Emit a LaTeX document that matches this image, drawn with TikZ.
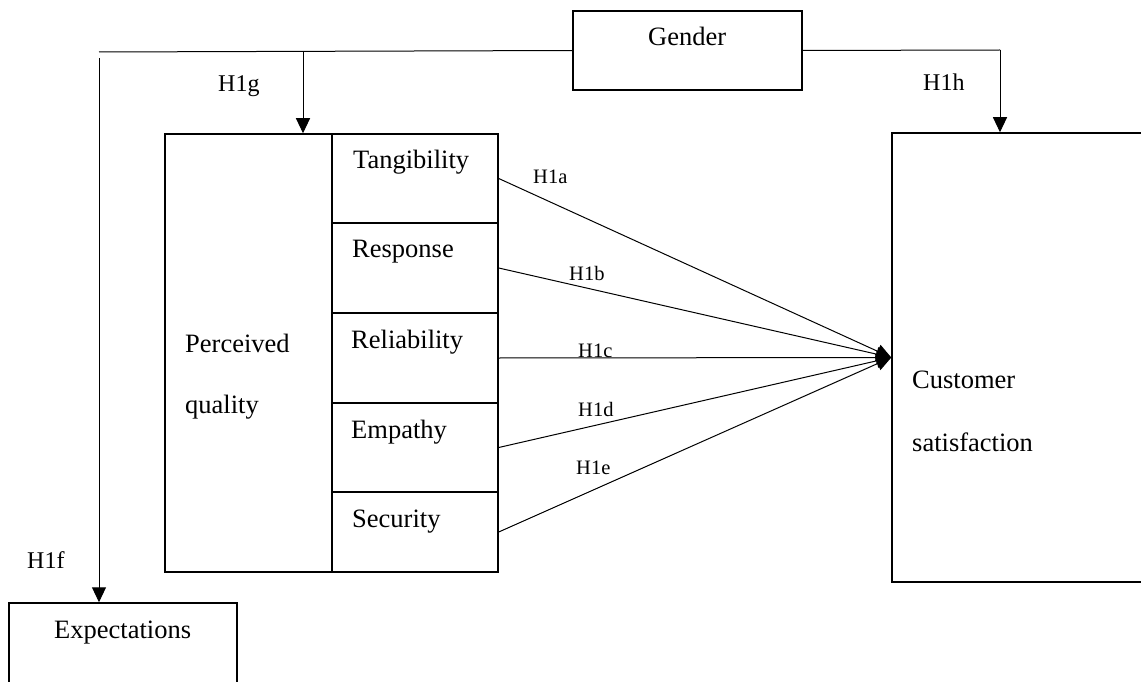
\documentclass[tikz,border=0pt]{standalone}
\usepackage{fontspec}
\setmainfont{Liberation Serif}
\usetikzlibrary{arrows.meta,positioning}

\tikzset{
  box/.style={draw,line width=1.5pt,inner sep=0pt},
  link/.style={line width=1pt},
  arr/.style={link,-{Triangle[width=14pt,length=15pt]}},
  txt/.style={anchor=base west,inner sep=0pt,font=\fontsize{26.5}{30}\selectfont},
  hyp/.style={anchor=base west,inner sep=0pt,font=\fontsize{24}{28}\selectfont},
  hypsmall/.style={anchor=base west,inner sep=0pt,font=\fontsize{20.5}{24}\selectfont},
}

\begin{document}
\begin{tikzpicture}[x=1pt,y=-1pt]
\useasboundingbox (0,0) rectangle (1141,682);
% boxes
\node[box,minimum width=229pt,minimum height=79pt] (gender) at (687.5,50.5) {};
\node[box,minimum width=167pt,minimum height=438pt] (pq) at (248.5,353) {};
\node[box,minimum width=166pt,minimum height=89pt] (tang) at (415,178.5) {};
\node[box,minimum width=166pt,minimum height=90pt] (resp) at (415,268) {};
\node[box,minimum width=166pt,minimum height=90pt] (reli) at (415,358) {};
\node[box,minimum width=166pt,minimum height=89pt] (emp) at (415,447.5) {};
\node[box,minimum width=166pt,minimum height=80pt] (sec) at (415,532) {};
\node[box,minimum width=268pt,minimum height=449pt] (cs) at (1026,357.5) {};
\node[box,minimum width=228pt,minimum height=107pt] (expect) at (123,656.5) {};
% box texts
\node[txt] (gendertxt) at (648,46) {Gender};
\node[txt] (pqtxt1) at (185,352) {Perceived};
\node[txt] (pqtxt2) at (185,413) {quality};
\node[txt] (tangtxt) at (353,168) {Tangibility};
\node[txt] (resptxt) at (352,257) {Response};
\node[txt] (relitxt) at (351,348) {Reliability};
\node[txt] (emptxt) at (351,438) {Empathy};
\node[txt] (sectxt) at (352,527) {Security};
\node[txt] (cstxt1) at (912,388) {Customer};
\node[txt] (cstxt2) at (912,451) {satisfaction};
\node[txt] (expecttxt) at (54,638) {Expectations};
% gender lines
\coordinate (lcorner) at (99,52);
\coordinate (rcorner) at (1000,50);
\coordinate (gbranch) at (303,52);
\draw[link] (gender.west) -- (lcorner);
\draw[arr] ([yshift=-6pt]lcorner) -- (lcorner |- expect.north);
\draw[arr] (gbranch) -- (gbranch |- pq.north);
\draw[link] (gender.east) -- (rcorner);
\draw[arr] (rcorner) -- (rcorner |- cs.north);
% dimensions to satisfaction
\draw[arr] (tang.east) -- (cs.west);
\draw[arr] (resp.east) -- (cs.west);
\draw[arr] (reli.east) -- (cs.west);
\draw[arr] (emp.east) -- (cs.west);
\draw[arr] (sec.east) -- (cs.west);
% hypotheses
\node[hyp] (h1g) at (218,92) {H1g};
\node[hyp] (h1h) at (923,91) {H1h};
\node[hyp] (h1f) at (27,568) {H1f};
\node[hypsmall] (h1a) at (533,184) {H1a};
\node[hypsmall] (h1b) at (569,280) {H1b};
\node[hypsmall] (h1c) at (578,357) {H1c};
\node[hypsmall] (h1d) at (578,416) {H1d};
\node[hypsmall] (h1e) at (576,474) {H1e};
\end{tikzpicture}
\end{document}
